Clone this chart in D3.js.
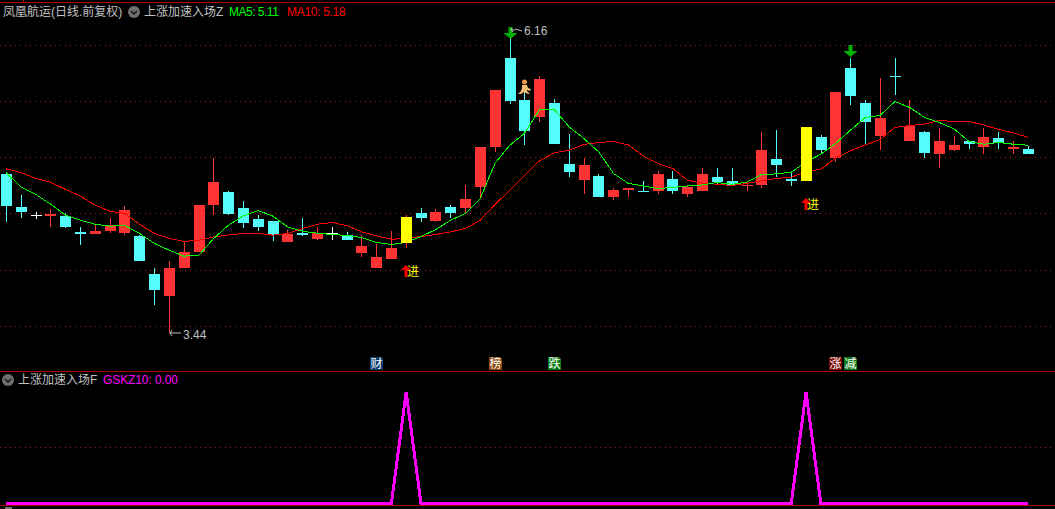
<!DOCTYPE html>
<meta charset="utf-8">
<script src="https://d3js.org/d3.v7.min.js"></script>
<style>
    html, body { margin: 0; padding: 0; background: #000; overflow: hidden; }
    svg { display: block; }
    text { font-family: "Liberation Sans", "Noto Sans CJK SC", sans-serif; font-size: 12px; }
</style>
<body>
<div id="viz"></div>
<script>
    // daily bars
    let opens = [4.85,4.56,4.49,4.48,4.48,4.34,4.32,4.35,4.33,4.30,3.96,3.77,4.02,4.16,4.58,4.69,4.55,4.45,4.44,4.25,4.33,4.28,4.33,4.31,4.15,4.02,4.10,4.24,4.51,4.44,4.56,4.55,4.74,5.09,5.89,5.51,5.36,5.49,4.94,4.80,4.84,4.65,4.71,4.70,4.70,4.81,4.68,4.70,4.83,4.79,4.75,4.76,4.99,4.81,4.79,5.18,5.00,5.80,5.49,5.19,5.73,5.15,5.23,5.03,5.07,5.15,5.09,5.17,5.08,5.08];
    let closes = [4.57,4.52,4.49,4.50,4.38,4.32,4.35,4.40,4.53,4.08,3.82,4.02,4.16,4.58,4.78,4.50,4.42,4.38,4.31,4.32,4.31,4.33,4.33,4.27,4.21,4.12,4.20,4.47,4.46,4.52,4.51,4.63,5.09,5.60,5.50,5.24,5.70,5.12,4.87,4.93,4.65,4.71,4.73,4.69,4.85,4.70,4.74,4.85,4.78,4.76,4.76,5.07,4.93,4.79,5.27,5.07,5.58,5.55,5.32,5.35,5.72,5.28,5.04,5.15,5.11,5.12,5.18,5.13,5.09,5.03];
    let highs = [4.87,4.67,4.52,4.54,4.51,4.38,4.40,4.46,4.57,4.31,4.02,4.08,4.26,4.58,5.00,4.70,4.61,4.49,4.44,4.36,4.46,4.38,4.38,4.34,4.31,4.23,4.35,4.49,4.55,4.54,4.58,4.76,5.09,5.60,6.16,5.62,5.73,5.52,5.21,5.00,4.85,4.73,4.73,4.79,4.88,4.88,4.76,4.91,4.91,4.91,4.78,5.23,5.25,4.86,5.27,5.20,5.58,5.89,5.51,5.71,5.89,5.51,5.24,5.26,5.19,5.15,5.26,5.23,5.15,5.10];
    let lows = [4.43,4.46,4.45,4.38,4.37,4.22,4.32,4.33,4.31,4.08,3.69,3.44,4.02,4.16,4.49,4.49,4.37,4.35,4.26,4.25,4.30,4.27,4.27,4.27,4.12,4.02,4.10,4.20,4.43,4.43,4.46,4.51,4.64,5.05,5.48,5.11,5.32,5.12,4.83,4.68,4.65,4.62,4.65,4.69,4.68,4.68,4.65,4.70,4.76,4.75,4.70,4.73,4.83,4.75,4.79,5.03,4.96,5.47,5.12,5.07,5.56,5.15,5.00,4.91,5.06,5.08,5.03,5.08,5.03,5.03];
    let ma5 = [4.864,4.739,4.672,4.585,4.488,4.443,4.407,4.390,4.396,4.325,4.236,4.176,4.123,4.132,4.280,4.399,4.481,4.529,4.479,4.383,4.345,4.327,4.316,4.307,4.289,4.245,4.227,4.245,4.298,4.360,4.443,4.503,4.636,4.950,5.110,5.217,5.428,5.428,5.273,5.170,5.051,4.859,4.770,4.748,4.725,4.734,4.748,4.757,4.778,4.763,4.781,4.850,4.855,4.870,4.962,5.030,5.125,5.244,5.357,5.375,5.499,5.446,5.357,5.312,5.255,5.143,5.119,5.134,5.119,5.110];
    let ma10 = [4.899,4.867,4.814,4.781,4.716,4.657,4.577,4.523,4.503,4.407,4.325,4.280,4.254,4.265,4.294,4.312,4.325,4.325,4.310,4.325,4.369,4.407,4.423,4.394,4.339,4.303,4.274,4.280,4.298,4.316,4.339,4.369,4.443,4.583,4.710,4.843,4.971,5.042,5.066,5.117,5.134,5.143,5.113,5.015,4.947,4.903,4.799,4.772,4.763,4.752,4.770,4.793,4.814,4.826,4.873,4.897,4.997,5.060,5.113,5.161,5.268,5.286,5.297,5.330,5.321,5.321,5.291,5.250,5.220,5.180];
    let gskz = [0,0,0,0,0,0,0,0,0,0,0,0,0,0,0,0,0,0,0,0,0,0,0,0,0,0,0,10,0,0,0,0,0,0,0,0,0,0,0,0,0,0,0,0,0,0,0,0,0,0,0,0,0,0,10,0,0,0,0,0,0,0,0,0,0,0,0,0,0,0];

    let priceTicks = [3.5, 4, 4.5, 5, 5.5, 6];
    let gskzTicks = [5];
    let yellowBars = [27, 54];       // signal days, also carry the 进 mark
    let sellBars = [{ i : 34, p : 6.16 }, { i : 57, p : 6.00 }];
    let badges = [
        { i : 25, label : "财", fill : "#0a3c6e" },
        { i : 33, label : "榜", fill : "#8c4a10" },
        { i : 37, label : "跌", fill : "#0c7a14" },
        { i : 56, label : "涨", fill : "#7c0808" },
        { i : 57, label : "减", fill : "#0c7a14" }
    ];

    const width = 1055, height = 509;
    const indexes = d3.range(opens.length);
    const upColor = "#ff3333", downColor = "#54fcfc", axisRed = "#a80000";

    let svg = d3.select("#viz").append("svg")
        .attr("width", width)
        .attr("height", height);

    svg.append("rect").attr("width", width).attr("height", height).attr("fill", "#000");

    let x = d3.scalePoint().domain(indexes).range([6.3, 1028.2]);
    let y = d3.scaleLinear().domain([3.5, 6]).range([326.2, 45.2]);
    let y2 = d3.scaleLinear().domain([0, 10]).range([503.7, 392]);

    // bar left edge on whole pixels, the wick sits in the middle of the 11px body
    let barLeft = i => Math.round(x(i) - 5.3);

    //panel borders
    [[0, width, 2.5, 2.5], [0, width, 371.5, 371.5], [0, width, 505.5, 505.5], [23.5, 23.5, 0, 2]].forEach(d => {
        svg.append("line")
            .attr("x1", d[0]).attr("x2", d[1]).attr("y1", d[2]).attr("y2", d[3])
            .attr("stroke", axisRed)
            .attr("shape-rendering", "crispEdges");
    });
    svg.append("rect").attr("x", 5).attr("y", 507).attr("width", 7).attr("height", 2).attr("fill", "#777");

    //dotted grid
    let gridLines = priceTicks.map(d => Math.floor(y(d)) + 0.5).concat(gskzTicks.map(d => Math.floor(y2(d)) + 0.5));
    svg.append("g").selectAll("line")
        .data(gridLines)
        .enter()
        .append("line")
            .attr("x1", 0).attr("x2", width)
            .attr("y1", d => d).attr("y2", d => d)
            .attr("stroke", "#b01818")
            .attr("stroke-dasharray", "1 4")
            .attr("shape-rendering", "crispEdges");

    function barColor(i) {
        if (opens[i] === closes[i]) return "#ffffff";
        return closes[i] > opens[i] ? upColor : downColor;
    }

    function drawBars(parent, list, bodyColor) {
        let g = parent.append("g").attr("shape-rendering", "crispEdges");
        g.selectAll("line")
            .data(list)
            .enter()
            .append("line")
                .attr("x1", i => barLeft(i) + 5.5)
                .attr("x2", i => barLeft(i) + 5.5)
                .attr("y1", i => Math.round(y(highs[i])))
                .attr("y2", i => Math.round(y(lows[i])))
                .attr("stroke", i => yellowBars.includes(i) ? upColor : barColor(i));
        g.selectAll("rect")
            .data(list)
            .enter()
            .append("rect")
                .attr("x", i => barLeft(i))
                .attr("width", 11)
                .attr("y", i => Math.round(y(Math.max(opens[i], closes[i]))))
                .attr("height", i => Math.max(1, Math.round(y(Math.min(opens[i], closes[i]))) - Math.round(y(Math.max(opens[i], closes[i])))))
                .attr("fill", bodyColor);
    }

    drawBars(svg, indexes.filter(i => !yellowBars.includes(i)), barColor);

    //moving averages
    let line = d3.line().x((d, i) => x(i)).y(d => y(d));
    [[ma10, "#ff0000"], [ma5, "#00ff00"]].forEach(d => {
        svg.append("path")
            .attr("d", line(d[0]))
            .attr("fill", "none")
            .attr("stroke", d[1])
            .attr("stroke-width", 1)
            .attr("shape-rendering", "crispEdges");
    });

    //yellow bars sit over the lines
    drawBars(svg, yellowBars, "#ffff00");

    //进 marks under the signal bars
    yellowBars.forEach(i => {
        let g = svg.append("g").attr("transform", `translate(${barLeft(i) + 5},${Math.round(y(lows[i]))})`);
        let top = 17;
        g.append("path")
            .attr("d", `M-1.5,${top + 12} V${top + 5} H-5 L0,${top} L5,${top + 5} H1.5 V${top + 12} Z`)
            .attr("fill", "#ff0000");
        g.append("text")
            .attr("x", 1).attr("y", top + 11)
            .attr("fill", "#ffff00")
            .text("进");
    });

    //green sell arrows
    svg.append("g").selectAll("path")
        .data(sellBars)
        .enter()
        .append("path")
            .attr("transform", d => `translate(${barLeft(d.i) + 5.5},${Math.round(y(d.p))})`)
            .attr("d", "M-2,0 H2 V6 H7 L0,12 L-7,6 H-2 Z")
            .attr("fill", "#00b000");

    //high and low labels
    let hi = d3.max(highs), lo = d3.min(lows);
    let hiG = svg.append("g").attr("transform", `translate(${barLeft(highs.indexOf(hi)) + 5},${Math.round(y(hi))})`);
    hiG.append("path")
        .attr("d", "M2,1 L1,3 L3,5 M1,3 H5 M5,2 L12,4")
        .attr("fill", "none").attr("stroke", "#c0c0c0");
    hiG.append("text").attr("x", 14).attr("y", 8).attr("fill", "#c0c0c0").text(hi.toFixed(2));
    let loG = svg.append("g").attr("transform", `translate(${barLeft(lows.indexOf(lo)) + 5},${Math.round(y(lo))})`);
    loG.append("path")
        .attr("d", "M3,-3 L1,0 L3,3 M1,0 H12")
        .attr("fill", "none").attr("stroke", "#c0c0c0");
    loG.append("text").attr("x", 14).attr("y", 6).attr("fill", "#c0c0c0").text(lo.toFixed(2));

    //runner icon
    let runner = svg.append("g").attr("transform", `translate(${barLeft(35) + 5},${Math.round(y(highs[35]))})`);
    runner.append("circle").attr("cx", 0.5).attr("cy", -6).attr("r", 2.5).attr("fill", "#e89848");
    runner.append("path")
        .attr("d", "M-2,-3 L3,-3 L4,0 L7,1 L6,3 L3,2 L3,3 L6,6 L4,6 L0,4 L-3,6 L-6,6 L-3,3 L-2,0 Z")
        .attr("fill", "#f4bc70");

    //news badges
    let badge = svg.append("g").selectAll("g")
        .data(badges)
        .enter()
        .append("g")
            .attr("transform", d => `translate(${barLeft(d.i) - 1},357)`);
    badge.append("path")
        .attr("d", "M0,0 H11 L13,2 V13 H0 Z")
        .attr("fill", d => d.fill);
    badge.append("text")
        .attr("x", 0.5).attr("y", 11)
        .attr("fill", "#fff")
        .text(d => d.label);

    //lower panel line
    svg.append("path")
        .attr("d", d3.line().x((d, i) => x(i)).y(d => y2(d))(gskz))
        .attr("fill", "none")
        .attr("stroke", "#ff00ff")
        .attr("stroke-width", 3)
        .attr("shape-rendering", "crispEdges");

    //headers
    function label(xPos, yPos, str, color) {
        return svg.append("text").attr("x", xPos).attr("y", yPos).attr("fill", color).text(str);
    }
    function chevron(cx, cy) {
        svg.append("circle").attr("cx", cx).attr("cy", cy).attr("r", 6).attr("fill", "#707070");
        svg.append("path")
            .attr("d", `M${cx - 3},${cy - 1} L${cx},${cy + 2} L${cx + 3},${cy - 1}`)
            .attr("fill", "none").attr("stroke", "#111").attr("stroke-width", 1.5);
    }
    label(3, 16, "凤凰航运(日线.前复权)", "#c0c0c0");
    chevron(134, 12);
    label(144, 16, "上涨加速入场Z", "#c0c0c0");
    label(229, 16, "MA5: " + ma5[ma5.length - 1].toFixed(2), "#00ff00").attr("letter-spacing", "-0.5");
    label(287, 16, "MA10: " + ma10[ma10.length - 1].toFixed(2), "#ff0000").attr("letter-spacing", "-0.3");
    chevron(8, 380);
    label(18, 384, "上涨加速入场F", "#c0c0c0");
    label(103, 384, "GSKZ10: " + gskz[gskz.length - 1].toFixed(2), "#ff00ff").attr("letter-spacing", "-0.1");
</script>
</body>
